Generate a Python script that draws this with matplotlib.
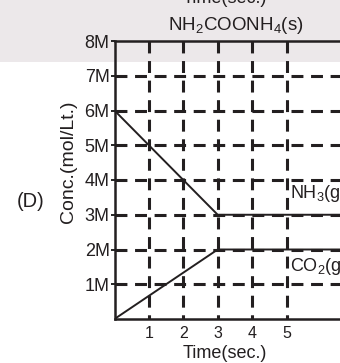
import matplotlib.pyplot as plt
from matplotlib.patches import Rectangle

plt.rcParams['font.family'] = ['Liberation Sans', 'DejaVu Sans']
plt.rcParams['mathtext.fontset'] = 'custom'
plt.rcParams['mathtext.rm'] = 'Liberation Sans'
plt.rcParams['mathtext.default'] = 'regular'

# data
nh3_t = [0, 3, 7]
nh3_c = [6, 3, 3]
co2_t = [0, 3, 7]
co2_c = [0, 2, 2]
x_ticks = [1, 2, 3, 4, 5]
y_ticks = [1, 2, 3, 4, 5, 6, 7, 8]
y_labels = ['1M', '2M', '3M', '4M', '5M', '6M', '7M', '8M']

ink = '#231f20'
W, H = 340, 363
fig = plt.figure(figsize=(W / 100, H / 100), dpi=100)
fig.patch.set_facecolor('white')

# light grey band at the top
fig.patches.append(Rectangle((0, 1 - 62 / H), 1, 62 / H, transform=fig.transFigure,
                             facecolor='#ece8ea', edgecolor='none', zorder=-5))

x0, y0, ytop = 114.5, 319, 41
ax = fig.add_axes([x0 / W, (H - y0) / H, (W - x0) / W, (y0 - ytop) / H])
ax.set_zorder(2)
ax.set_facecolor('none')
ax.set_xlim(0, (W - x0) / 34.4)
ax.set_ylim(0, 8)

dash = (0, (3.9, 2.5))
for x in x_ticks:
    ax.plot([x, x], [8, 0], color=ink, lw=2.2, linestyle=dash, clip_on=False)
for y in y_ticks[:-1]:
    ax.plot([0, 7], [y, y], color=ink, lw=2.2, linestyle=dash)

ax.plot(nh3_t, nh3_c, color=ink, lw=1.4)
ax.plot(co2_t, co2_c, color=ink, lw=1.4)

ax.spines['right'].set_visible(False)
for s in ['left', 'bottom', 'top']:
    ax.spines[s].set_linewidth(1.8)
    ax.spines[s].set_color(ink)

ax.set_xticks(x_ticks)
ax.set_xticklabels([str(v) for v in x_ticks], fontsize=11.5, color=ink)
ax.set_yticks(y_ticks)
ax.set_yticklabels(y_labels, fontsize=13, color=ink)
ax.tick_params(axis='x', length=0, pad=5)
ax.tick_params(axis='y', length=3, width=1.2, pad=0.5)

ax.text(5.1, 3.6, 'NH$_3$(g', fontsize=13, color=ink, va='center', ha='left', clip_on=False)
ax.text(5.1, 1.5, 'CO$_2$(g', fontsize=13, color=ink, va='center', ha='left', clip_on=False)

fig.text(225 / W, 1 - 354 / H, 'Time(sec.)', fontsize=13, color=ink, ha='center', va='center')
fig.text(225 / W, 1 - 3 / H, 'Time(sec.)', fontsize=13, color=ink, ha='center', va='baseline')
fig.text(236 / W, 1 - 25 / H, 'NH$_2$COONH$_4$(s)', fontsize=13.5, color=ink, ha='center', va='center')
fig.text(69 / W, 1 - 162 / H, 'Conc.(mol/Lt.)', fontsize=14, color=ink, ha='center', va='center', rotation=90)
fig.text(31 / W, 1 - 202 / H, '(D)', fontsize=14.5, color=ink, ha='center', va='center')

fig.savefig('out.png', dpi=100)
